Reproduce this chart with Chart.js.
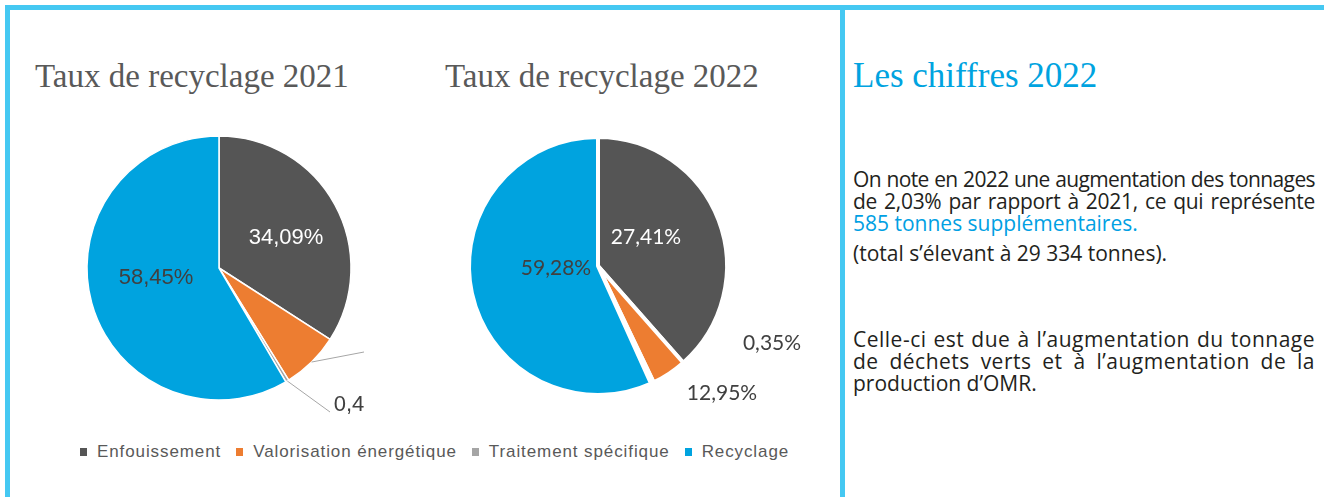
<!DOCTYPE html>
<html lang="fr">
<head>
<meta charset="utf-8">
<script src="https://cdn.jsdelivr.net/npm/chart.js@4.4.0/dist/chart.umd.min.js"></script>
<style>
	body { margin: 0; width: 1324px; height: 497px; background: #fff; position: relative; overflow: hidden; }
	.bar { position: absolute; background: #45c8f2; }
	.title { position: absolute; top: 60px; font-family: "Liberation Serif", serif; font-size: 33px; line-height: 33px; color: #595959; white-space: nowrap; }
	canvas { position: absolute; }
	#legend { position: absolute; left: 80px; top: 442px; display: flex; align-items: center; font-family: "Liberation Sans", Arial, sans-serif; font-size: 17px; letter-spacing: 0.9px; color: #595959; white-space: nowrap; }
	#legend .item { display: flex; align-items: center; margin-right: 15px; }
	#legend .box { width: 7px; height: 8px; margin-right: 10px; }
	.txt { position: absolute; left: 853px; width: 462px; font-family: "Open Sans", sans-serif; font-size: 21px; line-height: 22px; color: #231f20; }
	.txt div { white-space: nowrap; }
	.j { text-align: justify; text-align-last: justify; }
	.wide { letter-spacing: 0.5px; }
	.blue { color: #00a0e3; }
</style>
</head>
<body>
<div class="bar" style="left:5px; top:5px; width:1319px; height:5px;"></div>
<div class="bar" style="left:5px; top:5px; width:5px; height:492px;"></div>
<div class="bar" style="left:840px; top:5px; width:5px; height:492px;"></div>

<div class="title" style="left:35px;">Taux de recyclage 2021</div>
<div class="title" style="left:445px;">Taux de recyclage 2022</div>
<div class="title" style="left:853px; top:58px; font-size:35px; line-height:35px; color:#00a3e0;">Les chiffres 2022</div>

<canvas id="pie2021" width="340" height="330" style="left:60px; top:110px;"></canvas>
<canvas id="pie2022" width="400" height="330" style="left:440px; top:110px;"></canvas>
<div id="legend"></div>

<div class="txt" style="top:168px;">
	<div class="j" style="letter-spacing:-0.6px;">On note en 2022 une augmentation des tonnages</div>
	<div class="j" style="letter-spacing:-0.3px;">de 2,03% par rapport à 2021, ce qui représente</div>
	<div class="blue">585 tonnes supplémentaires.</div>
	<div style="margin-top:8px;">(total s’élevant à 29 334 tonnes).</div>
</div>
<div class="txt" style="top:328px;">
	<div class="j wide">Celle-ci est due à l’augmentation du tonnage</div>
	<div class="j wide">de déchets verts et à l’augmentation de la</div>
	<div>production d’OMR.</div>
</div>

<script>
const categories = ["Enfouissement", "Valorisation énergétique", "Traitement spécifique", "Recyclage"];
const values2021 = [34.09, 7.06, 0.4, 58.45];
const values2022 = [38.5, 4.4, 0.35, 56.75];
const labels2021 = ["34,09%", "", "0,4", "58,45%"];
const labels2022 = ["27,41%", "12,95%", "0,35%", "59,28%"];
const colors = ["#555555", "#ED7D31", "#A5A5A5", "#00A3DF"];

// draws the value labels and leader lines around each pie
const pieLabels = {
	id: "pieLabels",
	afterDatasetsDraw(chart, args, opts) {
		const ctx = chart.ctx;
		const arcs = chart.getDatasetMeta(0).data;
		const cx = arcs[0].x;
		const cy = arcs[0].y;
		ctx.save();
		(opts.leaders || []).forEach((l) => {
			const a = arcs[l.index];
			const mid = (a.startAngle + a.endAngle) / 2;
			const r = a.outerRadius;
			ctx.beginPath();
			ctx.moveTo(cx + Math.cos(mid) * r, cy + Math.sin(mid) * r);
			ctx.lineTo(cx + l.dx, cy + l.dy);
			ctx.strokeStyle = "#a6a6a6";
			ctx.lineWidth = 1;
			ctx.stroke();
		});
		ctx.font = opts.font;
		ctx.textAlign = "center";
		ctx.textBaseline = "middle";
		opts.texts.forEach((t, i) => {
			if (!t) return;
			const p = opts.offsets[i];
			ctx.fillStyle = opts.colors[i];
			ctx.fillText(t, cx + p[0], cy + p[1]);
		});
		ctx.restore();
	},
};

new Chart(document.getElementById("pie2021"), {
	type: "pie",
	data: {
		labels: categories,
		datasets: [
			{
				data: values2021,
				backgroundColor: colors,
				borderColor: "#fff",
				borderWidth: 1.5,
				radius: 132,
			},
		],
	},
	options: {
		responsive: false,
		animation: false,
		events: [],
		layout: { padding: { left: 27, top: 26, right: 49, bottom: 40 } },
		plugins: {
			legend: { display: false },
			tooltip: { enabled: false },
			pieLabels: {
				font: '22px "Liberation Sans", Arial, sans-serif',
				texts: labels2021,
				colors: ["#ffffff", "#404040", "#404040", "#404040"],
				offsets: [[67, -30], [0, 0], [130, 137], [-63, 10]],
				leaders: [
					{ index: 1, dx: 145, dy: 84 },
					{ index: 2, dx: 111, dy: 144 },
				],
			},
		},
	},
	plugins: [pieLabels],
});

new Chart(document.getElementById("pie2022"), {
	type: "pie",
	data: {
		labels: categories,
		datasets: [
			{
				data: values2022,
				backgroundColor: colors,
				borderColor: "#fff",
				borderWidth: 4,
				radius: 129,
			},
		],
	},
	options: {
		responsive: false,
		animation: false,
		events: [],
		layout: { padding: { left: 31, top: 29, right: 115, bottom: 47 } },
		plugins: {
			legend: { display: false },
			tooltip: { enabled: false },
			pieLabels: {
				font: "21px Lato, sans-serif",
				texts: labels2022,
				colors: ["#ffffff", "#404040", "#404040", "#404040"],
				offsets: [[48, -29], [124, 127], [174, 77], [-42, 2]],
			},
		},
	},
	plugins: [pieLabels],
});

const legend = document.getElementById("legend");
categories.forEach((name, i) => {
	const item = document.createElement("div");
	item.className = "item";
	item.innerHTML = '<span class="box" style="background:' + colors[i] + '"></span><span>' + name + "</span>";
	legend.appendChild(item);
});
</script>
</body>
</html>
